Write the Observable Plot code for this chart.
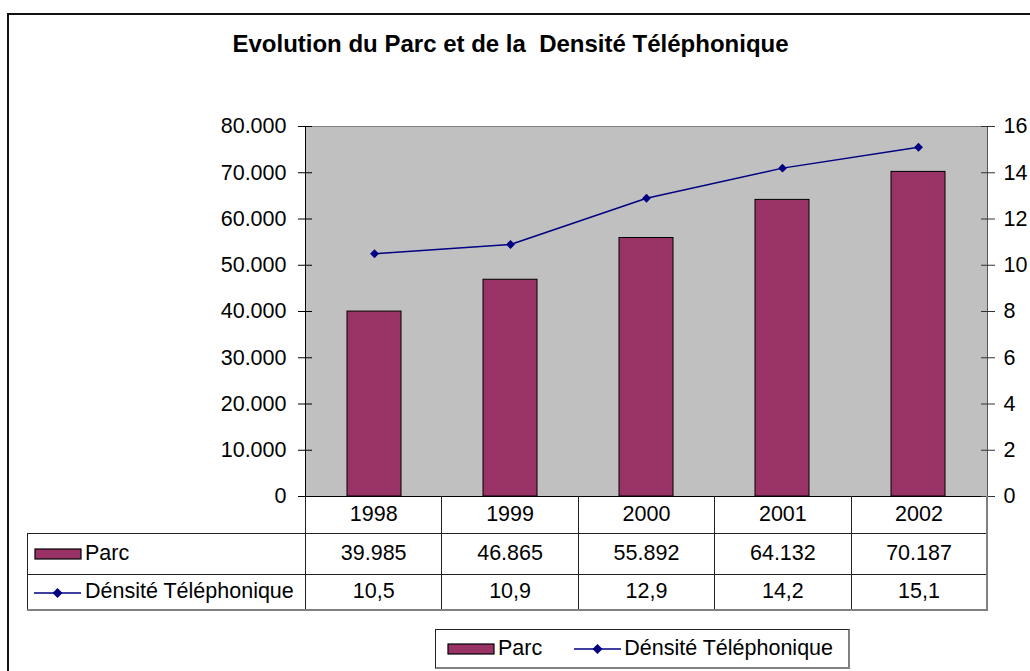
<!DOCTYPE html>
<html><head><meta charset="utf-8">
<script src="https://cdn.jsdelivr.net/npm/d3@7"></script>
<script src="https://cdn.jsdelivr.net/npm/@observablehq/plot@0.6"></script>
<style>
body{margin:0;background:#fff;font-family:"Liberation Sans",Arial,sans-serif;color:#000;}
#wrap{position:relative;width:1030px;height:671px;overflow:hidden;background:#fff;}
#frame{position:absolute;left:7px;top:13px;width:1100px;height:800px;border:2px solid #111;box-sizing:border-box;}
#title{position:absolute;left:0;width:1021px;top:32px;line-height:24px;text-align:center;font-weight:bold;font-size:24px;white-space:pre;}
#chart{position:absolute;left:0;top:0;}
#tbl{position:absolute;border-collapse:collapse;table-layout:fixed;font-size:21.5px;}
#tbl td{border:1px solid #222;text-align:center;padding:0;white-space:nowrap;overflow:hidden;}
#tbl tr.r1 td{border-top:none;}
#tbl td.blank{border-left:none;border-top:none;}
#tbl td.hdr{text-align:left;padding-left:6px;}
#tbl td.last{border-right:2px solid #808080;}
#tbl tr.r3 td{border-bottom:2px solid #808080;}
#tbl svg{vertical-align:middle;margin-right:3px;}
#legend{position:absolute;left:435px;top:629px;width:412px;height:37px;border:1px solid #222;border-right:2px solid #808080;border-bottom:2px solid #808080;font-size:21.5px;display:flex;align-items:center;box-sizing:content-box;}
#legend svg{vertical-align:middle;}
#legend .item{display:flex;align-items:center;}
</style></head>
<body>
<div id="wrap">
  <div id="frame"></div>
  <div id="title"></div>
  <div id="chart"></div>
  <table id="tbl"></table>
  <div id="legend"></div>
</div>
<script>
// ---- data ----
const title = "Evolution du Parc et de la  Densité Téléphonique";
const years = ["1998", "1999", "2000", "2001", "2002"];
const parc = [39985, 46865, 55892, 64132, 70187];
const densite = [10.5, 10.9, 12.9, 14.2, 15.1];
const seriesNames = ["Parc", "Dénsité Téléphonique"];
const leftTicks = [0, 10000, 20000, 30000, 40000, 50000, 60000, 70000, 80000];
const rightTicks = [0, 2, 4, 6, 8, 10, 12, 14, 16];

const barColor = "#993366";
const lineColor = "#000080";

const fmtParc = d => d === 0 ? "0" : d3.format(",")(d).replace(/,/g, ".");
const fmtDens = d => String(d).replace(".", ",");
const k = leftTicks[leftTicks.length - 1] / rightTicks[rightTicks.length - 1];

const data = years.map((y, i) => ({year: y, parc: parc[i], dens: densite[i]}));

document.getElementById("title").textContent = title;

const chart = Plot.plot({
  width: 1030, height: 671,
  marginLeft: 305, marginRight: 43, marginTop: 126, marginBottom: 175,
  style: {fontFamily: "'Liberation Sans', Arial, sans-serif", fontSize: "21.5px", background: "transparent", overflow: "visible", color: "#000"},
  x: {type: "band", domain: years, paddingInner: 0.6, paddingOuter: 0.3, axis: null},
  y: {domain: [leftTicks[0], leftTicks[leftTicks.length - 1]], axis: null},
  marks: [
    Plot.frame({fill: "#c0c0c0", stroke: "#808080"}),
    Plot.barY(data, {x: "year", y: "parc", fill: barColor, stroke: "#000", strokeWidth: 1}),
    Plot.frame({anchor: "left", stroke: "#000"}),
    Plot.frame({anchor: "right", stroke: "#555"}),
    Plot.ruleY([0], {stroke: "#000"}),
    Plot.axisY(leftTicks, {anchor: "left", tickSize: 14, dx: 7, tickPadding: 12, tickFormat: fmtParc, label: null, stroke: "#000"}),
    Plot.axisY(leftTicks, {anchor: "right", tickSize: 14, dx: -7, tickPadding: 9, tickFormat: d => d / k, label: null, stroke: "#333"}),
    Plot.line(data, {x: "year", y: d => d.dens * k, stroke: lineColor, strokeWidth: 1.5}),
    Plot.dot(data, {x: "year", y: d => d.dens * k, symbol: "diamond2", r: 4, fill: lineColor, stroke: "none"})
  ]
});
document.getElementById("chart").appendChild(chart);

// ---- data table aligned with the chart's x scale ----
const xs = chart.scale("x");
const ys = chart.scale("y");
const [xr0, xr1] = xs.range;
const step = (xr1 - xr0) / years.length;
const tableLeft = 27;
const tbl = document.getElementById("tbl");
tbl.style.left = tableLeft + "px";
tbl.style.top = ys.range[0] + "px";
tbl.style.width = (xr1 - tableLeft) + "px";

const swatchBar = `<svg width="48" height="12"><rect x="1" y="1" width="46" height="10" fill="${barColor}" stroke="#000" stroke-width="1.2"/></svg>`;
const swatchLine = `<svg width="48" height="12"><line x1="0" y1="6" x2="47" y2="6" stroke="${lineColor}" stroke-width="1.5"/><path d="M23.5,1 L28.5,6 L23.5,11 L18.5,6 Z" fill="${lineColor}"/></svg>`;

let html = `<colgroup><col style="width:${xr0 - tableLeft}px">` + years.map(() => `<col style="width:${step}px">`).join("") + `</colgroup>`;
html += `<tr class="r1" style="height:37px"><td class="blank"></td>` + years.map((y, i) => `<td class="${i === years.length - 1 ? "last" : ""}">${y}</td>`).join("") + `</tr>`;
html += `<tr class="r2" style="height:41px"><td class="hdr">${swatchBar}${seriesNames[0]}</td>` + parc.map((v, i) => `<td class="${i === years.length - 1 ? "last" : ""}">${fmtParc(v)}</td>`).join("") + `</tr>`;
html += `<tr class="r3" style="height:36px"><td class="hdr">${swatchLine}${seriesNames[1]}</td>` + densite.map((v, i) => `<td class="${i === years.length - 1 ? "last" : ""}">${fmtDens(v)}</td>`).join("") + `</tr>`;
tbl.innerHTML = html;

// ---- legend ----
document.getElementById("legend").innerHTML =
  `<div class="item" style="margin-left:11px">${swatchBar}<span style="margin-left:3px">${seriesNames[0]}</span></div>` +
  `<div class="item" style="margin-left:32px">${swatchLine}<span style="margin-left:2px">${seriesNames[1]}</span></div>`;
</script>
</body></html>
